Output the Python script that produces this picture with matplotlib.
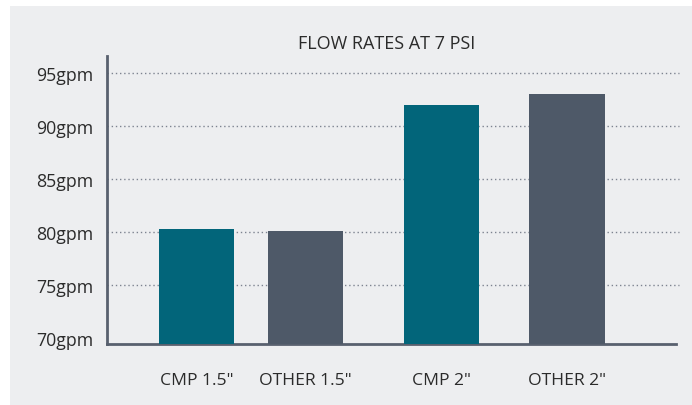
import matplotlib.pyplot as plt
from matplotlib.patches import Rectangle

# data
labels = ['CMP 1.5"', 'OTHER 1.5"', 'CMP 2"', 'OTHER 2"']
flow = [80.3, 80.1, 92.0, 93.0]
colors = ["#02657A", "#4E5968", "#02657A", "#4E5968"]
yticks = [70, 75, 80, 85, 90, 95]
ylabels = ["%dgpm" % v for v in yticks]

plt.rcParams['font.family'] = ['Open Sans', 'DejaVu Sans']

fig = plt.figure(figsize=(6.92, 4.06), dpi=100, facecolor="white")
# light gray panel behind the chart
fig.patches.append(Rectangle((10 / 692, 0), 1, 1 - 7 / 406, transform=fig.transFigure,
                             facecolor="#EDEEF0", edgecolor="none", zorder=-10))

ax = fig.add_axes([107 / 692, 1 - 345 / 406, (676 - 107) / 692, (345 - 57) / 406])
ax.set_facecolor("none")
ax.set_zorder(1)

xpos = [0, 1, 2.25, 3.4]
ax.bar(xpos, flow, width=0.69, color=colors, zorder=3)

ax.set_xlim(-0.82, 4.4)
ax.set_ylim(69.4, 96.6)
ax.set_yticks(yticks)
ax.set_yticklabels(ylabels, fontsize=12.8, color="#2b2b2b")
ax.set_xticks(xpos)
ax.set_xticklabels(labels, fontsize=12.6, color="#2b2b2b")
ax.tick_params(axis="both", length=0)
ax.tick_params(axis="x", pad=20)
ax.tick_params(axis="y", pad=10)

for y in yticks[1:]:
    ax.axhline(y, xmin=0, xmax=1.005, color="#7d8390", linestyle=(0, (1, 2)),
               linewidth=1, zorder=1, clip_on=False)

for s in ["top", "right"]:
    ax.spines[s].set_visible(False)
for s in ["left", "bottom"]:
    ax.spines[s].set_color("#58606E")
    ax.spines[s].set_linewidth(2)

fig.text(387 / 692, 1 - 44 / 406, "FLOW RATES AT 7 PSI", ha="center", va="center",
         fontsize=13, color="#2b2b2b")

fig.savefig("out.png", dpi=100)
